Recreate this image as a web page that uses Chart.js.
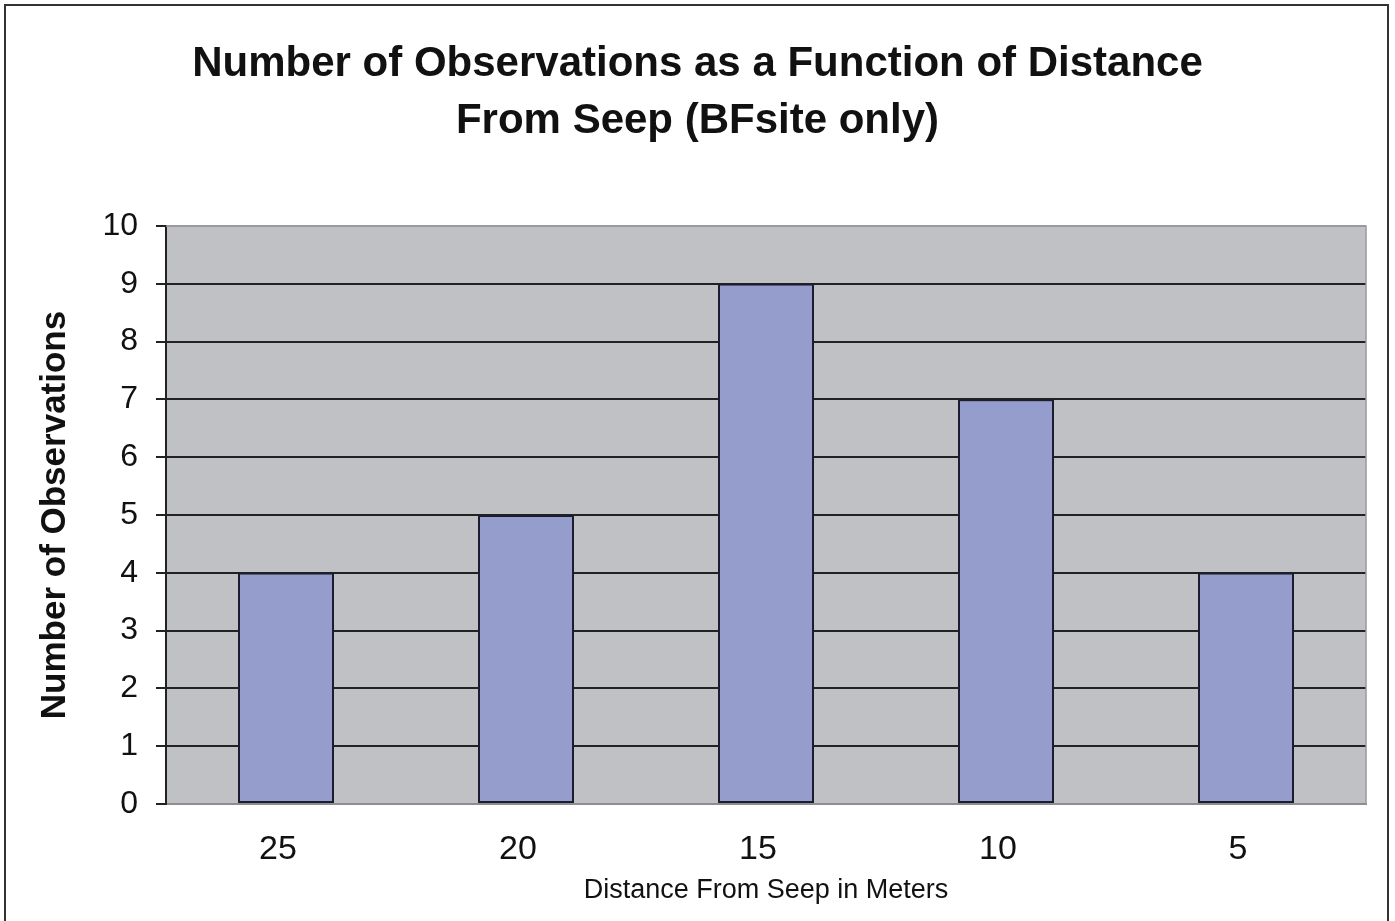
<!DOCTYPE html>
<html>
<head>
<meta charset="utf-8">
<title>Number of Observations as a Function of Distance From Seep</title>
<script src="https://cdn.jsdelivr.net/npm/chart.js@4"></script>
<style>
  html, body { margin: 0; padding: 0; background: #ffffff; }
  canvas { display: block; }
</style>
</head>
<body>
<canvas id="chart" width="1395" height="921"></canvas>
<script>
// Distance categories (metres from the seep) and observation counts
const distances = ['25', '20', '15', '10', '5'];
const observations = [4, 5, 9, 7, 4];
const yTicks = [0, 1, 2, 3, 4, 5, 6, 7, 8, 9, 10];

const FONT = '"Liberation Sans", Arial, Helvetica, sans-serif';

// White page, outer frame and grey plot background
const backdrop = {
  id: 'backdrop',
  beforeDraw(chart) {
    const { ctx, chartArea: a } = chart;
    ctx.save();
    ctx.fillStyle = '#ffffff';
    ctx.fillRect(0, 0, chart.width, chart.height);
    ctx.strokeStyle = '#333333';
    ctx.lineWidth = 2;
    ctx.strokeRect(5, 5, 1383, 940);
    ctx.fillStyle = '#c0c1c5';
    ctx.fillRect(a.left, a.top, a.right - a.left, a.bottom - a.top);
    ctx.restore();
  },
  afterDatasetsDraw(chart) {
    const { ctx, chartArea: a } = chart;
    ctx.save();
    ctx.strokeStyle = '#9a9a9c';
    ctx.lineWidth = 1.5;
    ctx.beginPath();
    ctx.moveTo(a.left, a.top);
    ctx.lineTo(a.right, a.top);
    ctx.lineTo(a.right, a.bottom);
    ctx.stroke();
    ctx.restore();
  }
};

new Chart(document.getElementById('chart'), {
  type: 'bar',
  data: {
    labels: distances,
    datasets: [{
      label: 'Observations',
      data: observations,
      backgroundColor: '#949dcb',
      borderColor: '#1a1e30',
      borderWidth: 2,
      borderSkipped: false,
      barPercentage: 0.4,
      categoryPercentage: 1.0
    }]
  },
  options: {
    responsive: false,
    animation: false,
    layout: { padding: { left: 29, right: 29, top: 10, bottom: 0 } },
    plugins: {
      legend: { display: false },
      tooltip: { enabled: false },
      title: {
        display: true,
        text: ['Number of Observations as a Function of Distance', 'From Seep (BFsite only)'],
        color: '#111111',
        font: { family: FONT, size: 42, weight: 'bold', lineHeight: 57 / 42 },
        padding: { top: 26, bottom: 76 }
      }
    },
    scales: {
      x: {
        grid: { display: false, drawTicks: false },
        border: { display: true, color: '#8e8e90', width: 2 },
        ticks: {
          color: '#111111',
          font: { family: FONT, size: 34 },
          padding: 25,
          labelOffset: -8
        },
        title: {
          display: true,
          text: 'Distance From Seep in Meters',
          color: '#111111',
          font: { family: FONT, size: 27 },
          padding: { top: 0, bottom: 14 }
        },
        afterFit(scale) { scale.height = 117; }
      },
      y: {
        min: 0,
        max: 10,
        afterBuildTicks(scale) { scale.ticks = yTicks.map(v => ({ value: v })); },
        grid: {
          color: ctx => (ctx.tick && (ctx.tick.value === 10 || ctx.tick.value === 0)) ? '#9a9a9c' : '#222222',
          lineWidth: 2,
          tickColor: '#222222',
          tickLength: 10,
          drawTicks: true
        },
        border: { display: true, color: '#222222', width: 2 },
        ticks: {
          color: '#111111',
          font: { family: FONT, size: 32 },
          padding: 18
        },
        title: {
          display: true,
          text: 'Number of Observations',
          color: '#111111',
          font: { family: FONT, size: 35, weight: 'bold' },
          padding: { top: 5, bottom: 0 }
        },
        afterFit(scale) { scale.width = 137; }
      }
    }
  },
  plugins: [backdrop]
});
</script>
</body>
</html>
